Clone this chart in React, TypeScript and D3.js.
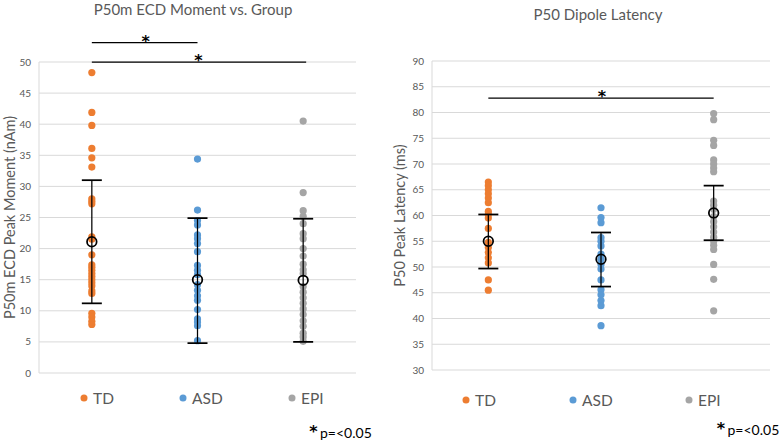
import React from "react";
import * as d3 from "d3";

const categories = ["TD", "ASD", "EPI"];
const colors = ["#ED7D31", "#5B9BD5", "#A5A5A5"];

// Left panel: P50m ECD Peak Moment (nAm)
const tdMoment = [48.3, 41.9, 39.8, 36.1, 34.6, 33.1, 28.0, 27.6, 27.2, 21.9, 21.5, 19.0, 17.4, 17.0, 16.5, 16.0, 15.5, 15.0, 14.5, 14.0, 13.2, 12.8, 9.6, 9.0, 8.3, 7.8];
const asdMoment = [34.4, 26.2, 24.5, 23.8, 22.2, 21.6, 20.8, 19.5, 17.3, 16.5, 15.8, 14.2, 13.3, 12.4, 11.7, 10.2, 8.7, 8.2, 7.6, 5.2];
const epiMoment = [40.5, 29.0, 26.1, 25.2, 24.0, 22.4, 21.6, 20.0, 18.8, 17.5, 16.6, 16.0, 13.9, 13.0, 12.1, 11.2, 10.3, 9.4, 8.4, 7.5, 6.4, 5.8, 5.1];
const momentMeans = [21.1, 15.0, 14.9];
const momentUpper = [31.0, 24.9, 24.8];
const momentLower = [11.2, 4.8, 5.0];
const momentTicks = [0, 5, 10, 15, 20, 25, 30, 35, 40, 45, 50];

// Right panel: P50 Peak Latency (ms)
const tdLatency = [66.5, 65.8, 65.0, 64.2, 63.4, 62.5, 60.8, 60.2, 59.5, 57.5, 54.8, 53.8, 52.8, 51.8, 50.8, 47.5, 45.5];
const asdLatency = [61.5, 59.6, 58.6, 55.7, 55.0, 54.1, 52.5, 51.5, 50.5, 49.6, 47.5, 45.6, 44.6, 43.5, 42.5, 38.6];
const epiLatency = [79.8, 78.6, 74.6, 73.6, 70.8, 70.0, 69.2, 68.5, 62.8, 62.0, 61.2, 59.8, 58.8, 57.8, 56.8, 55.8, 55.0, 54.2, 53.4, 50.5, 47.6, 41.5];
const latencyMeans = [55.0, 51.5, 60.5];
const latencyUpper = [60.2, 56.7, 65.8];
const latencyLower = [49.7, 46.2, 55.2];
const latencyTicks = [30, 35, 40, 45, 50, 55, 60, 65, 70, 75, 80, 85, 90];

// significance brackets: [fromIndex, toIndex, level]
const momentSig = [[0, 1, 53.1], [0, 2, 50]];
const latencySig = [[0, 2, 82.8]];

const FONT = "Lato, 'Open Sans', sans-serif";
const STAR_FONT = "'DejaVu Sans', sans-serif";

type PanelProps = {
  title: string;
  yLabel: string;
  series: number[][];
  means: number[];
  upper: number[];
  lower: number[];
  ticks: number[];
  sig: number[][];
  box: { x0: number; x1: number; y0: number; y1: number };
  titleX: number;
  titleY: number;
  yLabelX: number;
  legendX: number[];
  legendY: number;
  sigBarExtend: number;
  noteX: number;
  noteY: number;
};

function Panel(p: PanelProps) {
  const { box } = p;
  const y = d3
    .scaleLinear()
    .domain([p.ticks[0], p.ticks[p.ticks.length - 1]])
    .range([box.y1, box.y0]);
  const x = d3.scaleBand().domain(categories).range([box.x0, box.x1]).padding(0);
  const cx = (i: number) => (x(categories[i]) as number) + x.bandwidth() / 2;
  const cap = 10;
  return (
    <g>
      <text x={p.titleX} y={p.titleY} textAnchor="middle" fontSize={15} fill="#595959" fontFamily={FONT}>
        {p.title}
      </text>
      {p.ticks.map((t) => (
        <g key={t}>
          <line x1={box.x0} x2={box.x1} y1={y(t)} y2={y(t)} stroke="#D9D9D9" strokeWidth={1} />
          <text x={box.x0 - 8} y={y(t) + 3.5} textAnchor="end" fontSize={10} fill="#595959" fontFamily={FONT}>
            {t}
          </text>
        </g>
      ))}
      <line x1={box.x0} x2={box.x0} y1={box.y0} y2={box.y1} stroke="#D9D9D9" strokeWidth={1} />
      <text
        transform={`translate(${p.yLabelX},${(box.y0 + box.y1) / 2}) rotate(-90)`}
        textAnchor="middle"
        fontSize={14.5}
        fill="#595959"
        fontFamily={FONT}
      >
        {p.yLabel}
      </text>
      {p.series.map((vals, i) =>
        vals.map((v, j) => <circle key={`${i}-${j}`} cx={cx(i)} cy={y(v)} r={3.6} fill={colors[i]} />)
      )}
      {p.means.map((m, i) => (
        <g key={`e${i}`} stroke="#000" fill="none">
          <line x1={cx(i)} x2={cx(i)} y1={y(p.upper[i])} y2={y(p.lower[i])} strokeWidth={1.25} />
          <line x1={cx(i) - cap} x2={cx(i) + cap} y1={y(p.upper[i])} y2={y(p.upper[i])} strokeWidth={1.75} />
          <line x1={cx(i) - cap} x2={cx(i) + cap} y1={y(p.lower[i])} y2={y(p.lower[i])} strokeWidth={1.75} />
          <circle cx={cx(i)} cy={y(m)} r={4.8} strokeWidth={1.75} />
        </g>
      ))}
      {p.sig.map(([a, b, lv], k) => (
        <g key={`s${k}`}>
          <line x1={cx(a)} x2={cx(b) + (b - a > 1 ? p.sigBarExtend : 0)} y1={y(lv)} y2={y(lv)} stroke="#000" strokeWidth={1.25} />
          <text x={(cx(a) + cx(b)) / 2 + 1} y={y(lv) + 4} textAnchor="middle" fontSize={16} fontWeight="bold" fontFamily={STAR_FONT} fill="#000">
            *
          </text>
        </g>
      ))}
      {categories.map((c, i) => (
        <g key={c}>
          <circle cx={p.legendX[i]} cy={p.legendY} r={3.5} fill={colors[i]} />
          <text x={p.legendX[i] + 9} y={p.legendY + 5.5} fontSize={15.5} fill="#595959" fontFamily={FONT}>
            {c}
          </text>
        </g>
      ))}
      <text x={p.noteX} y={p.noteY - 1.5} textAnchor="middle" fontSize={16} fontWeight="bold" fontFamily={STAR_FONT} fill="#000">
        *
      </text>
      <text x={p.noteX + 6.5} y={p.noteY} fontSize={14} fontFamily={FONT} fill="#000">
        p=&lt;0.05
      </text>
    </g>
  );
}

export default function App() {
  return (
    <svg width={782} height={444} style={{ position: "absolute", left: 0, top: 0, background: "#fff" }}>
      <rect width={782} height={444} fill="#fff" />
      <Panel
        title="P50m ECD Moment vs. Group"
        yLabel="P50m ECD Peak Moment (nAm)"
        series={[tdMoment, asdMoment, epiMoment]}
        means={momentMeans}
        upper={momentUpper}
        lower={momentLower}
        ticks={momentTicks}
        sig={momentSig}
        box={{ x0: 39, x1: 356, y0: 62, y1: 373 }}
        titleX={193}
        titleY={15}
        yLabelX={15}
        legendX={[84, 183, 292]}
        legendY={398}
        sigBarExtend={3}
        noteX={313.5}
        noteY={438}
      />
      <Panel
        title="P50 Dipole Latency"
        yLabel="P50 Peak Latency (ms)"
        series={[tdLatency, asdLatency, epiLatency]}
        means={latencyMeans}
        upper={latencyUpper}
        lower={latencyLower}
        ticks={latencyTicks}
        sig={latencySig}
        box={{ x0: 432, x1: 770, y0: 61, y1: 370 }}
        titleX={598}
        titleY={20}
        yLabelX={405}
        legendX={[466, 573, 689]}
        legendY={400}
        sigBarExtend={0}
        noteX={721}
        noteY={435}
      />
    </svg>
  );
}
